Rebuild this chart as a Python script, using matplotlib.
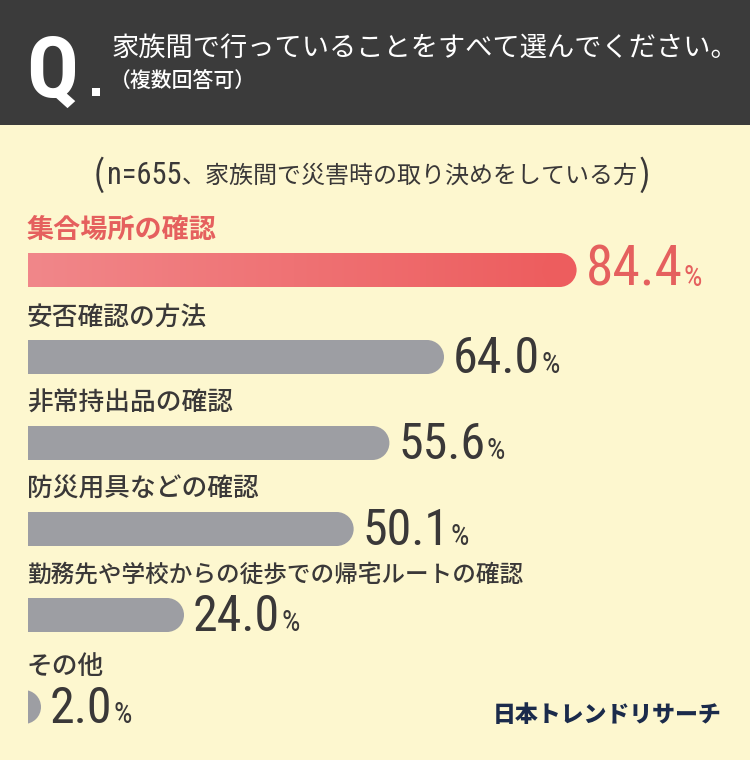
import numpy as np
import matplotlib
matplotlib.use('Agg')
import matplotlib.pyplot as plt
from matplotlib import font_manager
from matplotlib.patches import Rectangle, Ellipse
from matplotlib.colors import LinearSegmentedColormap

# === data ===
categories = [
    '集合場所の確認',
    '安否確認の方法',
    '非常持出品の確認',
    '防災用具などの確認',
    '勤務先や学校からの徒歩での帰宅ルートの確認',
    'その他',
]
values = [84.4, 64.0, 55.6, 50.1, 24.0, 2.0]
value_labels = ['84.4', '64.0', '55.6', '50.1', '24.0', '2.0']

question = '家族間で行っていることをすべて選んでください。'
question_note = '（複数回答可）'
sample_n = 'n=655'
sample_desc = '、家族間で災害時の取り決めをしている方'
brand = '日本トレンドリサーチ'

# === style ===
CREAM = '#FDF7CF'
HEAD = '#3B3B3B'
RED_TXT = '#E5605E'
PINK_L = '#F1878A'
PINK_R = '#ED5D5E'
GRAY = '#9D9EA3'
DARK = '#3A3838'
NAVY = '#1B2B4B'
JP = 'Noto Sans CJK JP'


def pick(names):
    for n in names:
        try:
            font_manager.findfont(font_manager.FontProperties(family=n),
                                  fallback_to_default=False)
            return n
        except ValueError:
            pass
    return 'DejaVu Sans'


NUM = pick(['Roboto Condensed', 'Liberation Sans Narrow', 'DejaVu Sans Condensed', 'Roboto'])

fig = plt.figure(figsize=(7.5, 7.6), dpi=100)
fig.patch.set_facecolor(CREAM)

# pixel-space canvas for header and texts
ax0 = fig.add_axes([0, 0, 1, 1])
ax0.set_xlim(0, 750)
ax0.set_ylim(760, 0)
ax0.axis('off')
ax0.add_patch(Rectangle((0, 0), 750, 125, color=HEAD, lw=0))

ax0.text(26, 97, 'Q', family=NUM, fontsize=62, fontweight='bold', color='white',
         va='baseline', ha='left')
ax0.add_patch(Rectangle((92, 88), 8, 8, color='white', lw=0))
ax0.text(112, 48, question, family=JP, fontsize=19.6, color='white', va='center')
ax0.text(110, 81, question_note, family=JP, fontsize=15, fontweight='medium',
         color='white', va='center')

# subtitle, chained pieces
p1 = ax0.text(93, 176, '(', family=JP, fontsize=26, color=DARK, va='center')
p2 = ax0.annotate(sample_n, xy=(1, 0.5), xycoords=p1, xytext=(2, 0),
                  textcoords='offset pixels', family=NUM, fontsize=22,
                  color=DARK, va='center')
p3 = ax0.annotate(sample_desc, xy=(1, 0.5), xycoords=p2, xytext=(0, 0),
                  textcoords='offset pixels', family=JP, fontsize=17.3,
                  color=DARK, va='center')
ax0.annotate(')', xy=(1, 0.5), xycoords=p3, xytext=(1, 0),
             textcoords='offset pixels', family=JP, fontsize=26,
             color=DARK, va='center')

ax0.text(722, 716, brand, family=JP, fontsize=16.5, fontweight='heavy', color=NAVY,
         ha='right', va='center')

# === bars ===
ys = [270, 357, 443, 529, 615, 707]
bar_h = 34
px_per_pct = 6.5
axb = fig.add_axes([28 / 750, 0, 100 * px_per_pct / 750, 1])
axb.axis('off')
cap = (bar_h / 2) / px_per_pct  # cap radius in % units

grad = LinearSegmentedColormap.from_list('pink', [PINK_L, PINK_R])
nums = []
for i, (cat, v, lab, y) in enumerate(zip(categories, values, value_labels, ys)):
    first = i == 0
    if first:
        rect = axb.barh(y, v - cap, height=bar_h, left=0, color='none', lw=0)[0]
        im = axb.imshow(np.linspace(0, 1, 256)[None, :], cmap=grad, aspect='auto',
                        extent=(0, v - cap, y + bar_h / 2, y - bar_h / 2),
                        interpolation='bilinear')
        im.set_clip_path(rect)
        cap_color = PINK_R
    else:
        axb.barh(y, v - cap, height=bar_h, left=0, color=GRAY, lw=0)
        cap_color = GRAY
    axb.add_patch(Ellipse((v - cap, y), 2 * cap, bar_h, color=cap_color, lw=0))

    if first:
        size = 19.5
    elif len(cat) > 15:
        size = 17
    else:
        size = 18.5
    ax0.text(27, y - 40, cat, family=JP, fontsize=size,
             fontweight='bold' if first else 'medium',
             color=RED_TXT if first else DARK, va='center')

    t = axb.annotate(lab, xy=(v, y + bar_h / 2 - 1), xytext=(9, 0),
                     textcoords='offset pixels', family=NUM,
                     fontsize=40 if first else 36,
                     color=RED_TXT if first else DARK, va='baseline', ha='left')
    nums.append((t, v, y, first))

axb.set_xlim(0, 100)
axb.set_ylim(760, 0)

fig.canvas.draw()
r = fig.canvas.get_renderer()
for t, v, y, first in nums:
    w = t.get_window_extent(r).width
    axb.annotate('%', xy=(v, y + bar_h / 2 - 1), xytext=(9 + w + 1, 0),
                 textcoords='offset pixels', family=NUM, fontsize=21,
                 color=RED_TXT if first else DARK, va='baseline', ha='left')

fig.savefig('out.png', dpi=100, facecolor=CREAM)
